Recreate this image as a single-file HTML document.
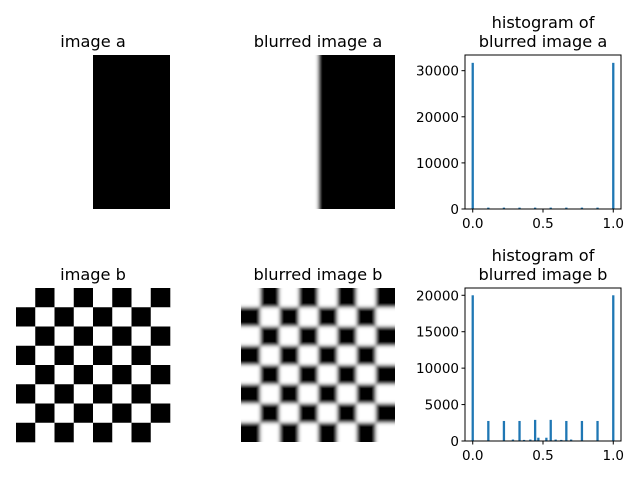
<!DOCTYPE html>
<html><head><meta charset="utf-8"><style>
body{margin:0;background:#fff}
svg{display:block;font-family:"DejaVu Sans","Liberation Sans",sans-serif}
</style></head><body>
<svg id="fig" width="640" height="480" viewBox="0 0 640 480">
<defs>
<filter id="blur" filterUnits="userSpaceOnUse" x="0" y="0" width="640" height="480"><feGaussianBlur stdDeviation="1.8"/></filter>
<clipPath id="clipA"><rect x="241" y="55" width="154" height="154"/></clipPath>
<clipPath id="clipB"><rect x="241" y="288" width="154" height="154"/></clipPath>
</defs>
<g id="root"></g>
</svg>
<script>
// histogram data (bin centres and counts)
const histABins = [0.0, 0.111, 0.222, 0.333, 0.444, 0.555, 0.666, 0.777, 0.888, 1.0];
const histACounts = [31700, 300, 300, 300, 300, 300, 300, 300, 300, 31700];
const histBBins = [0.0, 0.111, 0.222, 0.286, 0.333, 0.365, 0.41, 0.444, 0.467, 0.524, 0.555, 0.59, 0.63, 0.666, 0.70, 0.777, 0.888, 1.0];
const histBCounts = [20000, 2750, 2750, 200, 2750, 150, 200, 2900, 450, 450, 2900, 200, 150, 2750, 200, 2750, 2750, 20000];
const histATicksY = [0, 10000, 20000, 30000];
const histBTicksY = [0, 5000, 10000, 15000, 20000];
const ticksX = [0.0, 0.5, 1.0];
const tickXLabels = ["0.0", "0.5", "1.0"];

const NS = "http://www.w3.org/2000/svg";
const root = document.getElementById('root');
function mk(tag, attrs, parent){
  const e = document.createElementNS(NS, tag);
  for (const k in attrs) e.setAttribute(k, attrs[k]);
  (parent || root).appendChild(e);
  return e;
}
function title(lines, cx, yLast, name){
  lines.forEach((t, i) => {
    const e = mk('text', {x: cx, y: yLast - (lines.length - 1 - i) * 19, 'text-anchor': 'middle', 'font-size': 16.2, fill: '#000'});
    e.textContent = t;
    
    
  });
}

// image a
title(["image a"], 93, 47, 'image-a-title');
const ia = mk('rect', {x: 93, y: 55, width: 77, height: 154, fill: '#000'});



// blurred image a
title(["blurred image a"], 318, 47, 'blurred-image-a-title');
const ga = mk('g', {'clip-path': 'url(#clipA)'});


const gaf = mk('g', {filter: 'url(#blur)'}, ga);
mk('rect', {x: 221, y: 35, width: 97, height: 194, fill: '#fff'}, gaf);
mk('rect', {x: 318, y: 35, width: 97, height: 194, fill: '#000'}, gaf);

// checkerboards
function checker(x0, y0, parent, pad){
  const c = 154 / 8;
  const lo = pad ? -1 : 0, hi = pad ? 9 : 8;
  for (let r = lo; r < hi; r++) for (let col = lo; col < hi; col++) {
    const rr = Math.min(7, Math.max(0, r)), cc = Math.min(7, Math.max(0, col));
    const black = (rr + cc) % 2 === 1;
    mk('rect', {x: x0 + col * c, y: y0 + r * c, width: c + 0.3, height: c + 0.3, fill: black ? '#000' : '#fff'}, parent);
  }
}
title(["image b"], 93, 280, 'image-b-title');
const ib = mk('g', {});


checker(16, 288, ib, false);

title(["blurred image b"], 318, 280, 'blurred-image-b-title');
const gb = mk('g', {'clip-path': 'url(#clipB)'});


const gbf = mk('g', {filter: 'url(#blur)'}, gb);
checker(241, 288, gbf, true);

// histograms
function hist(ax, bins, counts, yTicks, yMax, name){
  const {l, t, w, h} = ax;
  const xs = v => l + (v + 0.055) / 1.11 * w;
  const ys = v => t + h - v / yMax * h;
  const g = mk('g', {});
  
  
  bins.forEach((b, i) => {
    const bw = 2.3;
    const r = mk('rect', {x: xs(b) - bw / 2, y: ys(counts[i]), width: bw, height: ys(0) - ys(counts[i]), fill: '#1f77b4'}, g);
    
    
  });
  const frame = mk('rect', {x: l, y: t, width: w, height: h, fill: 'none', stroke: '#000', 'stroke-width': 1}, g);
  
  
  yTicks.forEach(v => {
    mk('line', {x1: l - 3.5, x2: l, y1: ys(v), y2: ys(v), stroke: '#000'}, g);
    const e = mk('text', {x: l - 6, y: ys(v) + 5, 'text-anchor': 'end', 'font-size': 13.5}, g);
    e.textContent = v;
    
    
  });
  ticksX.forEach((v, i) => {
    mk('line', {x1: xs(v), x2: xs(v), y1: t + h, y2: t + h + 3.5, stroke: '#000'}, g);
    const e = mk('text', {x: xs(v), y: t + h + 19, 'text-anchor': 'middle', 'font-size': 13.5}, g);
    e.textContent = tickXLabels[i];
    
    
  });
}
title(["histogram of", "blurred image a"], 543, 47, 'histogram-a-title');
hist({l: 465, t: 55, w: 156, h: 154}, histABins, histACounts, histATicksY, 33400, 'histogram-a');
title(["histogram of", "blurred image b"], 543, 280, 'histogram-b-title');
hist({l: 465, t: 288, w: 156, h: 153}, histBBins, histBCounts, histBTicksY, 21000, 'histogram-b');
</script>
</body></html>
